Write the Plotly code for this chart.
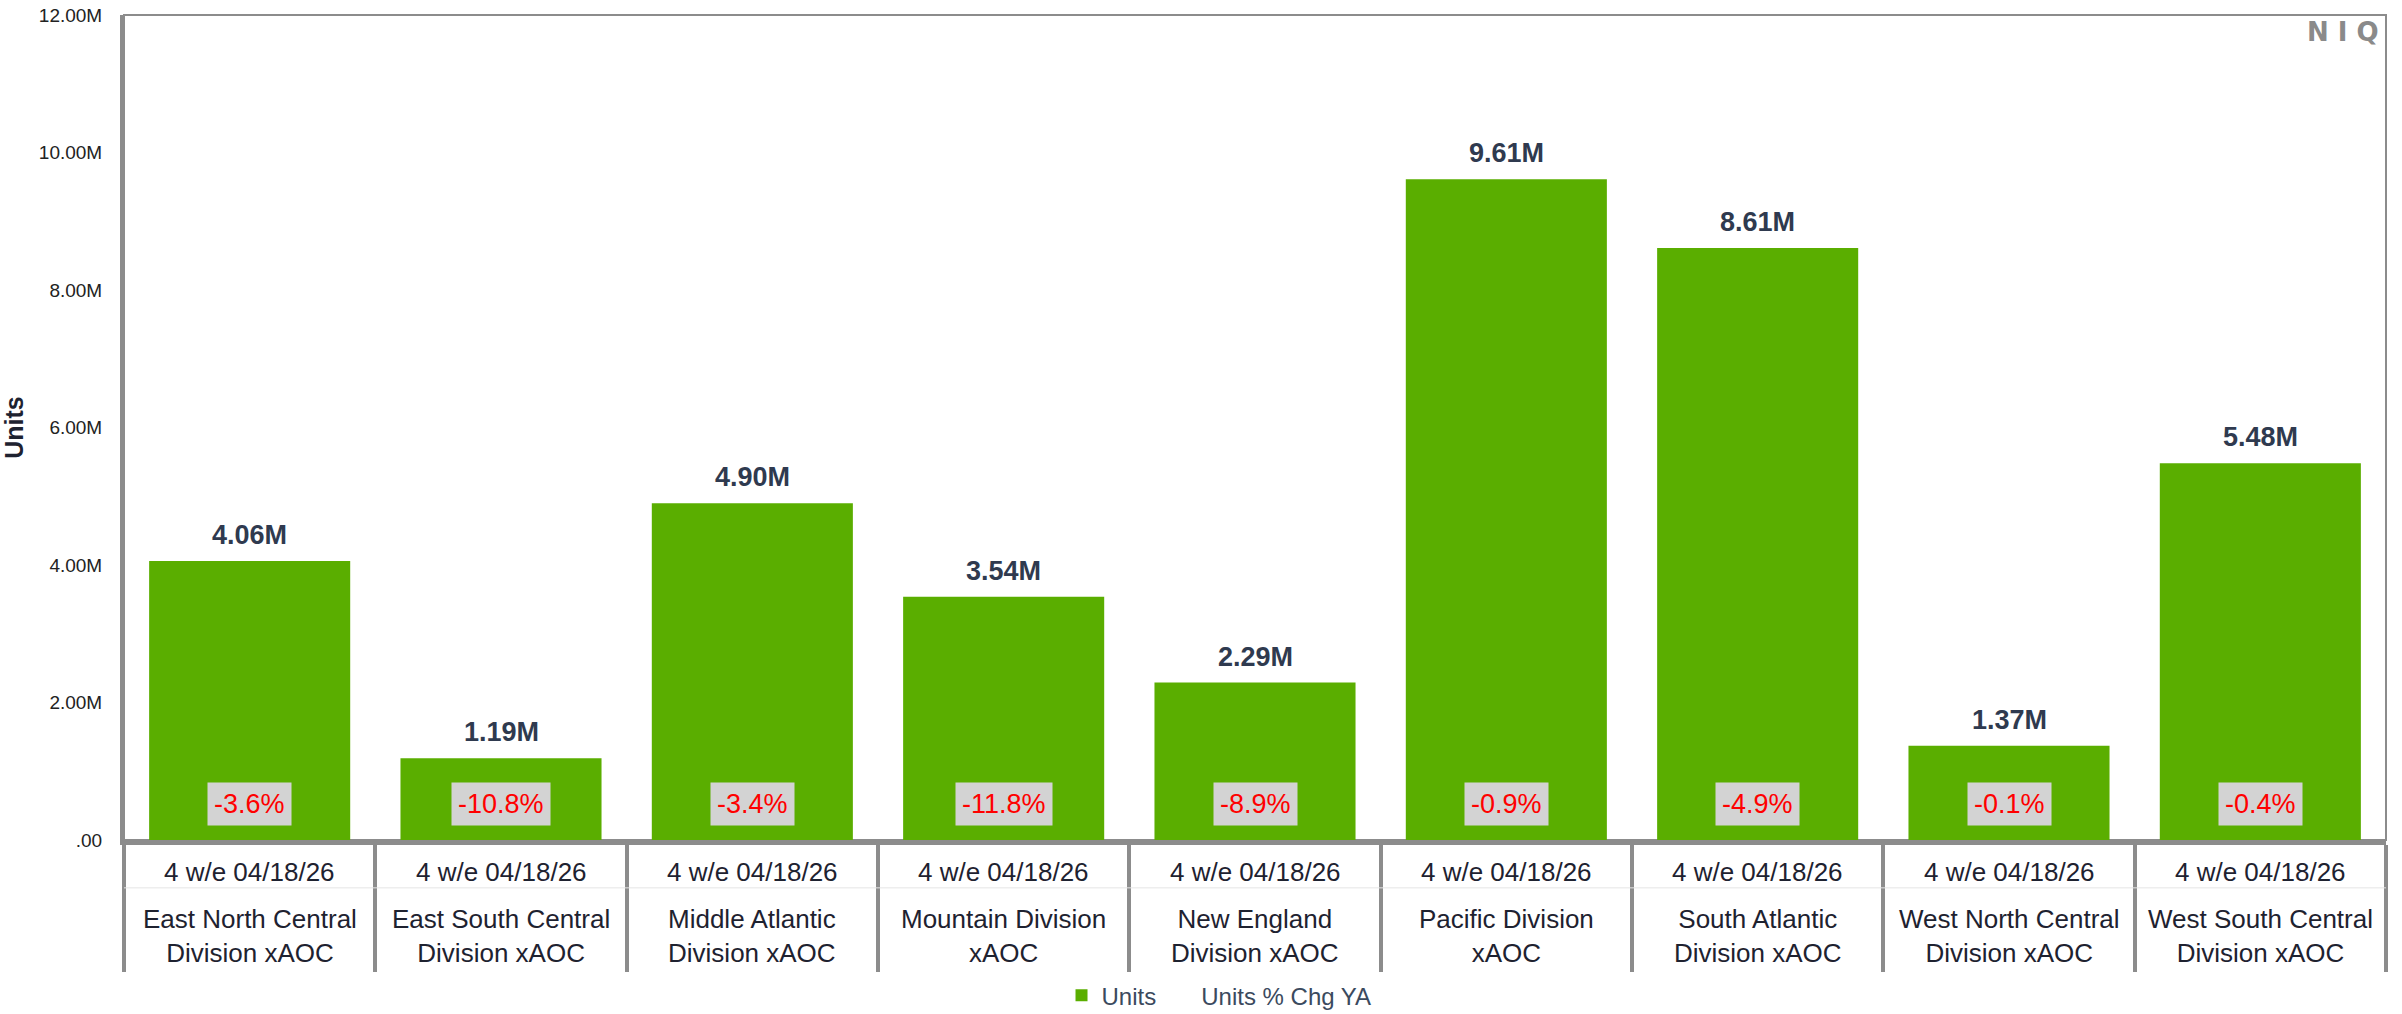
import plotly.graph_objects as go

# Chart data
divisions = [
    'East North Central<br>Division xAOC',
    'East South Central<br>Division xAOC',
    'Middle Atlantic<br>Division xAOC',
    'Mountain Division<br>xAOC',
    'New England<br>Division xAOC',
    'Pacific Division<br>xAOC',
    'South Atlantic<br>Division xAOC',
    'West North Central<br>Division xAOC',
    'West South Central<br>Division xAOC',
]
period = '4 w/e 04/18/26'
units = [4.06e6, 1.19e6, 4.90e6, 3.54e6, 2.29e6, 9.61e6, 8.61e6, 1.37e6, 5.48e6]
pct_chg = [-3.6, -10.8, -3.4, -11.8, -8.9, -0.9, -4.9, -0.1, -0.4]
y_ticks = [0, 2e6, 4e6, 6e6, 8e6, 10e6, 12e6]
y_tick_labels = ['.00', '2.00M', '4.00M', '6.00M', '8.00M', '10.00M', '12.00M']

FONT = 'Liberation Sans, Arial, sans-serif'
GREEN = '#5AAE00'
AXIS_GRAY = '#8C8C8C'

fig = go.Figure()

fig.add_trace(go.Bar(
    x=divisions,
    y=units,
    name='Units',
    marker_color=GREEN,
    marker_line_width=0,
))

# legend-only entry for the % change series (labels drawn as annotations)
fig.add_trace(go.Scatter(
    x=[None], y=[None],
    mode='markers',
    name='Units % Chg YA',
    marker=dict(color='rgba(0,0,0,0)', size=1),
))

annotations = []
for d, u, p in zip(divisions, units, pct_chg):
    # value label above bar
    annotations.append(dict(
        x=d, y=u, xref='x', yref='y',
        text=f'<b>{u / 1e6:.2f}M</b>',
        showarrow=False, yanchor='bottom', yshift=9,
        font=dict(family=FONT, size=27, color='#2F3A4F'),
    ))
    # % change box near the bottom of the bar
    annotations.append(dict(
        x=d, y=0.044, xref='x', yref='paper',
        text=f'{p:.1f}%',
        showarrow=False, yanchor='middle',
        bgcolor='#D3D3D3', borderpad=6,
        font=dict(family=FONT, size=27, color='#FF0000'),
    ))
    # two rows of category labels under the axis
    annotations.append(dict(
        x=d, y=-0.0388, xref='x', yref='paper',
        text=period, showarrow=False, yanchor='middle',
        font=dict(family=FONT, size=26, color='#1E2230'),
    ))
    annotations.append(dict(
        x=d, y=-0.116, xref='x', yref='paper',
        text=d, showarrow=False, yanchor='middle',
        font=dict(family=FONT, size=26, color='#1E2230'),
    ))

# NIQ logo
annotations.append(dict(
    x=0.998, y=0.98, xref='paper', yref='paper',
    text='<b>N I Q</b>', showarrow=False, xanchor='right', yanchor='middle',
    font=dict(family='DejaVu Sans, sans-serif', size=26, color='#8A8A8A'),
))

fig.update_layout(
    width=2402,
    height=1014,
    margin=dict(l=124, r=16, t=15, b=174, autoexpand=False),
    paper_bgcolor='white',
    plot_bgcolor='white',
    bargap=0.2,
    font=dict(family=FONT, color='#222222'),
    showlegend=True,
    legend=dict(
        orientation='h',
        xref='container', yref='container',
        x=0.5075, xanchor='center',
        y=0.018, yanchor='middle',
        font=dict(family=FONT, size=24, color='#3B4A5E'),
    ),
    annotations=annotations,
    shapes=[
        # thin top/right border
        dict(type='rect', xref='paper', yref='paper', x0=0, y0=0, x1=1, y1=1,
             line=dict(color=AXIS_GRAY, width=2), layer='below'),
        # faint separator between label rows
        dict(type='line', xref='paper', yref='paper', x0=0, x1=1, y0=-0.058, y1=-0.058,
             line=dict(color='#E6E6E6', width=1)),
    ],
)

fig.update_xaxes(
    type='category',
    automargin=False,
    showticklabels=False,
    ticks='outside',
    tickson='boundaries',
    ticklen=127,
    tickwidth=4,
    tickcolor=AXIS_GRAY,
    showline=True,
    linecolor=AXIS_GRAY,
    linewidth=5,
    showgrid=False,
    zeroline=False,
)

fig.update_yaxes(
    range=[0, 12e6],
    automargin=False,
    tickvals=y_ticks,
    ticktext=y_tick_labels,
    tickfont=dict(family=FONT, size=19, color='#222222'),
    ticklabelstandoff=14,
    ticklabeloverflow='allow',
    showline=True,
    linecolor=AXIS_GRAY,
    linewidth=4,
    showgrid=False,
    zeroline=False,
    title=dict(text='<b>Units</b>', standoff=12,
               font=dict(family=FONT, size=25, color='#1E2230')),
)

# drop the browser's default 8px body margin so the figure fills the window
fig.write_html(
    'out.html',
    config={'displayModeBar': False},
    post_script="document.body.style.margin = '0';",
)
